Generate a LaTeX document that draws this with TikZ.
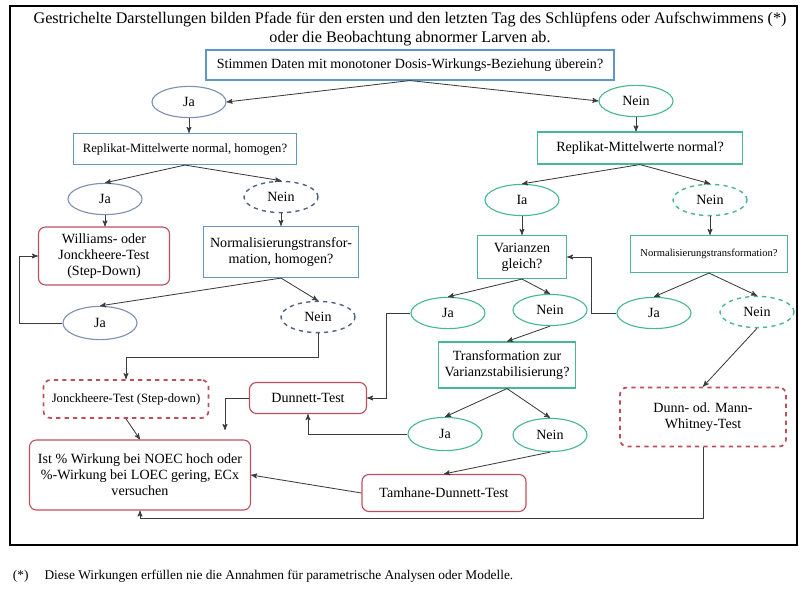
\documentclass[tikz,border=0pt]{standalone}
\usepackage{fontspec}
\setmainfont{Liberation Serif}
\usepackage{xcolor}
\usetikzlibrary{arrows,shapes.geometric}

\definecolor{boxblue}{RGB}{96,150,196}
\definecolor{ellblue}{RGB}{125,145,178}
\definecolor{dashblue}{RGB}{82,100,132}
\definecolor{boxgreen}{RGB}{72,184,148}
\definecolor{boxred}{RGB}{190,78,92}
\definecolor{linegray}{RGB}{60,60,60}

\tikzset{
  every node/.style={font=\fontsize{10}{11.5}\selectfont},
  qbox/.style={rectangle, draw, line width=0.8pt, align=center, inner sep=2pt},
  blueq/.style={qbox, draw=boxblue},
  greenq/.style={qbox, draw=boxgreen},
  testbox/.style={rectangle, rounded corners=5pt, draw=boxred, line width=0.8pt, align=center},
  opttest/.style={testbox, dashed, line width=1.2pt},
  answer/.style={ellipse, draw, line width=0.8pt, minimum width=1.85cm, minimum height=0.78cm, inner sep=0pt},
  jablue/.style={answer, draw=ellblue},
  neinblue/.style={answer, draw=dashblue, dashed, line width=1pt},
  jagreen/.style={answer, draw=boxgreen},
  neingreen/.style={answer, draw=boxgreen, dashed, line width=1pt},
  flow/.style={->, draw=linegray, line width=0.6pt},
  flowedges/.style={line width=0.6pt, every edge/.style={draw=linegray, ->}}
}

\begin{document}
\begin{tikzpicture}[>=stealth',x=0.025cm,y=-0.025cm]

    \useasboundingbox (0,0) rectangle (808,590);
    \draw[line width=1.6pt] (10,6) rectangle (797,545);

    \node[align=center, font=\fontsize{11.5}{14}\selectfont] (title) at (410,29)
        {Gestrichelte Darstellungen bilden Pfade für den ersten und den letzten Tag des Schlüpfens oder Aufschwimmens (*)\\
         oder die Beobachtung abnormer Larven ab.};

    % top question
    \node[blueq, minimum width=10.2cm, minimum height=0.75cm] (q1) at (410,65)
        {Stimmen Daten mit monotoner Dosis-Wirkungs-Beziehung überein?};

    \node[jablue] (ja1) at (189,102) {Ja};
    \node[jagreen] (nein1) at (636,101) {Nein};

    % left branch
    \node[blueq, font=\fontsize{9}{11}\selectfont, minimum width=5.575cm, minimum height=0.775cm] (q2l) at (185,149)
        {Replikat-Mittelwerte normal, homogen?};
    \node[jablue] (ja2) at (105,199) {Ja};
    \node[neinblue] (nein2) at (281,197) {Nein};
    \node[testbox, minimum width=3.275cm, minimum height=1.45cm] (williams) at (104,256)
        {Williams- oder\\Jonckheere-Test\\(Step-Down)};
    \node[blueq, minimum width=3.875cm, minimum height=1.275cm] (q3l) at (281,252)
        {Normalisierungstransfor-\\mation, homogen?};
    \node[jablue, minimum height=0.83cm] (ja3) at (100,323) {Ja};
    \node[neinblue] (nein3) at (318,317) {Nein};
    \node[opttest, font=\fontsize{9}{11}\selectfont, minimum width=4.125cm, minimum height=0.95cm] (jonck) at (126,399)
        {Jonckheere-Test (Step-down)};

    % right branch
    \node[greenq, minimum width=5.125cm, minimum height=0.8cm] (q2r) at (640,148)
        {Replikat-Mittelwerte normal?};
    \node[jagreen] (ja4) at (522,200) {Ia};
    \node[neingreen] (nein4) at (710,200) {Nein};
    \node[greenq, minimum width=2.225cm, minimum height=1.075cm] (varianz) at (522,257)
        {Varianzen\\gleich?};
    \node[greenq, font=\fontsize{7.5}{9}\selectfont, minimum width=3.925cm, minimum height=0.925cm] (q3r) at (709,254)
        {Normalisierungstransformation?};
    \node[jagreen] (ja5) at (448,313) {Ja};
    \node[jagreen] (nein5) at (550,310) {Nein};
    \node[jagreen] (ja6) at (654,313) {Ja};
    \node[neingreen] (nein6) at (757,312) {Nein};
    \node[greenq, minimum width=3.425cm, minimum height=1.15cm] (transf) at (507,365)
        {Transformation zur\\Varianzstabilisierung?};
    \node[jagreen, minimum height=0.83cm] (ja7) at (445,434) {Ja};
    \node[jagreen, minimum height=0.83cm] (nein7) at (550,435) {Nein};

    % tests
    \node[testbox, minimum width=2.925cm, minimum height=0.775cm] (dunnett) at (308,398) {Dunnett-Test};
    \node[opttest, minimum width=4.15cm, minimum height=1.475cm] (dunn) at (703,417)
        {Dunn- od. Mann-\\Whitney-Test};
    \node[testbox, minimum width=4.1cm, minimum height=0.925cm] (tamhane) at (444,493) {Tamhane-Dunnett-Test};
    \node[testbox, minimum width=5.525cm, minimum height=1.75cm] (ist) at (140,475)
        {Ist \% Wirkung bei NOEC hoch oder\\\%-Wirkung bei LOEC gering, ECx\\versuchen};

    \coordinate (dunend) at (225,430);

    \node[anchor=west, font=\fontsize{9.5}{11}\selectfont] (note) at (8,576)
        {(*)\hspace{1.2em}Diese Wirkungen erfüllen nie die Annahmen für parametrische Analysen oder Modelle.};

    \path[flowedges]
    (q1.south) edge (ja1.east)
    (q1.south) edge (nein1.west)
    (ja1.south) edge (ja1.south |- q2l.north)
    (nein1.south) edge (nein1.south |- q2r.north)
    %left side
    (q2l.south) edge (ja2.north)
    (q2l.south) edge (nein2.north)
    (ja2.south) edge (ja2.south |- williams.north)
    (nein2.south) edge (nein2.south |- q3l.north)
    (q3l.south) edge (ja3.north)
    (q3l.south) edge (nein3.north)
    (jonck.south) edge (ist.north)
    %right side
    (q2r.south) edge (ja4.north)
    (q2r.south) edge (nein4.north)
    (ja4.south) edge (ja4.south |- varianz.north)
    (nein4.south) edge (nein4.south |- q3r.north)
    (varianz.south) edge (ja5.north)
    (varianz.south) edge (nein5.north)
    (q3r.south) edge (ja6.north)
    (q3r.south) edge (nein6.north)
    (nein5.south) edge (transf.north)
    (transf.south) edge (ja7.north)
    (transf.south) edge (nein7.north)
    (nein7.south) edge (tamhane.north)
    (nein6.south) edge (dunn.north)
    (tamhane.west) edge (ist.east);

    \draw[flow] (ja3.west) -- ++(-43,0) |- (williams.west);
    \draw[flow] (nein3.south) -- ++(0,24) -| (jonck.north);
    \draw[flow] (ja6.west) -- ++(-25,0) |- (varianz.east);
    \draw[flow] (ja5.west) -- ++(-24,0) |- (dunnett.east);
    \draw[flow] (ja7.west) -| (dunnett.south);
    \draw[flow] (dunnett.west) -| (dunend);
    \draw[flow] (dunn.south) -- ++(0,71) -| (ist.south);

\end{tikzpicture}
\end{document}
